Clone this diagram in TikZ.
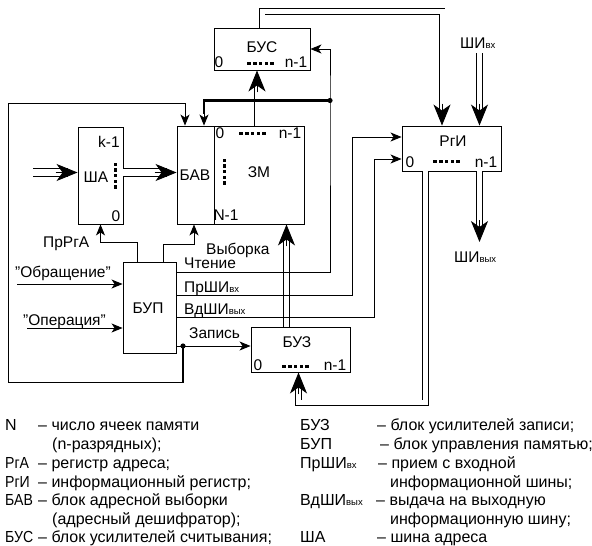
\documentclass[tikz,border=0pt]{standalone}
\usepackage{fontspec}
\setmainfont{Liberation Sans}
\usetikzlibrary{arrows.meta,calc}
\newcommand{\lowix}[1]{{\fontsize{9.5}{10}\selectfont #1}}
\newcommand{\narrowcaps}[1]{\scalebox{0.88}[1]{#1}}
\newcommand{\mydotsh}[2]{\foreach \i in {0,...,4}{\fill ($(#1,#2)+(\i*5.8-1.75,-1.5)$) rectangle ++(3.5,3);}}
\newcommand{\mydotsv}[2]{\foreach \i in {0,...,4}{\fill ($(#1,#2)+(-1.5,\i*5.6-1.75)$) rectangle ++(3,3.5);}}
\begin{document}
\begin{tikzpicture}[x=1pt,y=-1pt,
  box/.style={draw,line width=0.9pt,inner sep=0pt},
  lbl/.style={inner sep=0pt,font=\fontsize{15.5}{16}\selectfont,anchor=base},
  lblw/.style={lbl,anchor=base west},
  leg/.style={inner sep=0pt,font=\fontsize{16}{17}\selectfont,anchor=base west},
  wire/.style={line width=0.9pt},
  thickw/.style={line width=2.6pt},
  arr/.style={wire,-{Stealth[length=11pt,width=9pt,inset=3pt]}},
  bus/.style={double,double distance=5pt,line width=0.9pt},
  busw/.style={double,double distance=6.5pt,line width=0.9pt},
  bigarr/.style={line width=0.9pt,-{Stealth[length=21pt,width=17pt,inset=6pt]}}]
\useasboundingbox (0,0) rectangle (592,546);
\fill[white] (0,0) rectangle (592,546);
% boxes
\node[box,minimum width=96pt,minimum height=42pt] (bus) at (262,49) {};
\node[box,minimum width=99pt,minimum height=45pt] (rgi) at (451.5,148.5) {};
\node[box,minimum width=45pt,minimum height=97pt] (sha) at (100.5,175.5) {};
\node[box,minimum width=37pt,minimum height=98pt] (bav) at (195.5,175) {};
\node[box,minimum width=90pt,minimum height=98pt] (zm) at (259,175) {};
\node[box,minimum width=53pt,minimum height=91pt] (bup) at (149.5,307.5) {};
\node[box,minimum width=99pt,minimum height=45pt] (buz) at (300.5,349.5) {};
% box texts
\node[lbl] (tbus) at (262,52) {БУС};
\node[lbl] (tbus0) at (219,67) {0};
\node[lbl] (tbusn) at (296,67) {n-1};
\node[lbl] (trgi) at (453,146) {РгИ};
\node[lbl] (trgi0) at (410,167) {0};
\node[lbl] (trgin) at (486,167) {n-1};
\node[lbl] (tzm0) at (220,138) {0};
\node[lbl] (tzmn) at (290,138) {n-1};
\node[lbl] (tzm) at (259,177) {ЗМ};
\node[lbl] (tzmN) at (226,220) {N-1};
\node[lbl] (tbav) at (195,180) {БАВ};
\node[lbl] (tshak) at (109,147) {k-1};
\node[lbl] (tsha) at (96,182) {ША};
\node[lbl] (tsha0) at (116,221) {0};
\node[lbl] (tbup) at (148,313) {БУП};
\node[lbl] (tbuz) at (297,347) {БУЗ};
\node[lbl] (tbuz0) at (258,370) {0};
\node[lbl] (tbuzn) at (335,370) {n-1};
\mydotsh{249}{63}
\mydotsh{435}{161}
\mydotsh{241}{133}
\mydotsh{284}{366}
\mydotsv{224}{160.5}
\mydotsv{115}{164.5}
% outside labels
\node[lblw] (lread) at (184,268) {Чтение};
\node[lblw] (lprsh) at (184,292) {ПрШИ\lowix{вх}};
\node[lblw] (lvdsh) at (184,314) {ВдШИ\lowix{вых}};
\node[lblw] (lwrite) at (189,338) {Запись};
\node[lblw] (lsel) at (206,254) {Выборка};
\node[lblw] (lprrga) at (43,247) {ПрРгА};
\node[lblw] (lobr) at (15,277) {"Обращение"};
\node[lblw] (lop) at (23,325) {"Операция"};
\node[lblw] (lshivx) at (460,48) {ШИ\lowix{вх}};
\node[lblw] (lshivyx) at (454,262) {ШИ\lowix{вых}};
% coordinates
\coordinate (dA) at (330,100.5);
\coordinate (dB) at (183,346);
\coordinate (inSha) at (33,172.5);
\coordinate (inShi) at (479.5,53);
\coordinate (outShi) at (479.5,242);
\coordinate (inObr) at (17,284);
\coordinate (inOp) at (27,328);
% buses
\draw[bus] (bus.north) -- ++(0,-16) -| ($(rgi.north)+(-9.5,-10)$);
\draw[bigarr] ($(rgi.north)+(-9.5,-22)$) -- ($(rgi.north)+(-9.5,0)$);
\draw[bus] (inShi) -- ($(rgi.north)+(28,-10)$);
\draw[bigarr] ($(rgi.north)+(28,-22)$) -- ($(rgi.north)+(28,0)$);
\draw[bus] ($(rgi.south)+(28,0)$) -- ($(outShi)+(0,-10)$);
\draw[bigarr] ($(outShi)+(0,-22)$) -- (outShi);
\draw[bus] ($(rgi.south)+(-26,0)$) |- ($(buz.south)+(-2,30.5)$) -- ($(buz.south)+(-2,10)$);
\draw[bigarr] ($(buz.south)+(-2,22)$) -- ($(buz.south)+(-2,0)$);
\draw[bus] ($(buz.north)+(-14,0)$) -- ($(zm.south)+(27.5,10)$);
\draw[bigarr] ($(zm.south)+(27.5,22)$) -- ($(zm.south)+(27.5,0)$);
\draw[bus] ($(zm.north)+(-2,0)$) -- ($(bus.south)+(-5,10)$);
\draw[bigarr] ($(bus.south)+(-5,22)$) -- ($(bus.south)+(-5,0)$);
\draw[busw] (inSha) -- ($(sha.west)+(-10,-3)$);
\draw[bigarr] ($(sha.west)+(-22,-3)$) -- ($(sha.west)+(0,-3)$);
\draw[busw] ($(sha.east)+(0,-3)$) -- ($(bav.west)+(-10,-2.5)$);
\draw[bigarr] ($(bav.west)+(-22,-2.5)$) -- ($(bav.west)+(0,-2.5)$);
% control wires
\draw[arr] ($(bup.north east)+(0,11)$) -| (dA) |- (bus.east);
\draw[arr] ($(bup.north east)+(0,34)$) -| ($(rgi.west)+(-49,-11.5)$) -- ($(rgi.west)+(0,-11.5)$);
\draw[arr] ($(bup.north east)+(0,56)$) -| ($(rgi.west)+(-27,10.5)$) -- ($(rgi.west)+(0,10.5)$);
\draw[arr] (bup.east |- dB) -- (buz.west |- dB);
\draw[thickw] (dB) -- ++(0,36.6);
\draw[arr] ($(dB)+(0,36)$) -| (8,103) -| ($(bav.north)+(-10.5,0)$);
\draw[thickw] (dA) -| ($(bav.north)+(8.5,-12)$);
\draw[arr] ($(bav.north)+(8.5,-14)$) -- ($(bav.north)+(8.5,0)$);
\draw[arr] (inObr) -- (bup.west |- inObr);
\draw[arr] (inOp) -- (bup.west |- inOp);
\draw[arr] ($(bup.north)+(-12.5,0)$) |- ($(sha.south)+(0,18)$) -- (sha.south);
\draw[arr] ($(bup.north)+(13.5,0)$) |- ($(bav.south)+(-1.5,20)$) -- ($(bav.south)+(-1.5,0)$);
\fill (dA) circle (2.6);
\fill (dB) circle (2.6);
% legend
\node[leg] (g1a) at (5,430) {N};
\node[leg] (g1b) at (38,430) {– число ячеек памяти};
\node[leg] (g1c) at (52,449) {(n-разрядных);};
\node[leg] (g2a) at (5,468) {\narrowcaps{РгА}};
\node[leg] (g2b) at (38,468) {– регистр адреса;};
\node[leg] (g3a) at (5,487) {\narrowcaps{РгИ}};
\node[leg] (g3b) at (38,487) {– информационный регистр;};
\node[leg] (g4a) at (5,505.5) {\narrowcaps{БАВ}};
\node[leg] (g4b) at (38,505.5) {– блок адресной выборки};
\node[leg] (g4c) at (52,524) {(адресный дешифратор);};
\node[leg] (g5a) at (5,542.5) {\narrowcaps{БУС}};
\node[leg] (g5b) at (38,542.5) {– блок усилителей считывания;};
\node[leg] (h1a) at (300,430) {БУЗ};
\node[leg] (h1b) at (377,430) {– блок усилителей записи;};
\node[leg] (h2a) at (300,449) {БУП};
\node[leg] (h2b) at (380,449) {– блок управления памятью;};
\node[leg] (h3a) at (300,468) {ПрШИ\lowix{вх}};
\node[leg] (h3b) at (378,468) {– прием с входной};
\node[leg] (h3c) at (390,487) {информационной шины;};
\node[leg] (h4a) at (300,505.5) {ВдШИ\lowix{вых}};
\node[leg] (h4b) at (376,505.5) {– выдача на выходную};
\node[leg] (h4c) at (390,524) {информационную шину;};
\node[leg] (h5a) at (300,542.5) {ША};
\node[leg] (h5b) at (377,542.5) {– шина адреса};
\end{tikzpicture}
\end{document}
